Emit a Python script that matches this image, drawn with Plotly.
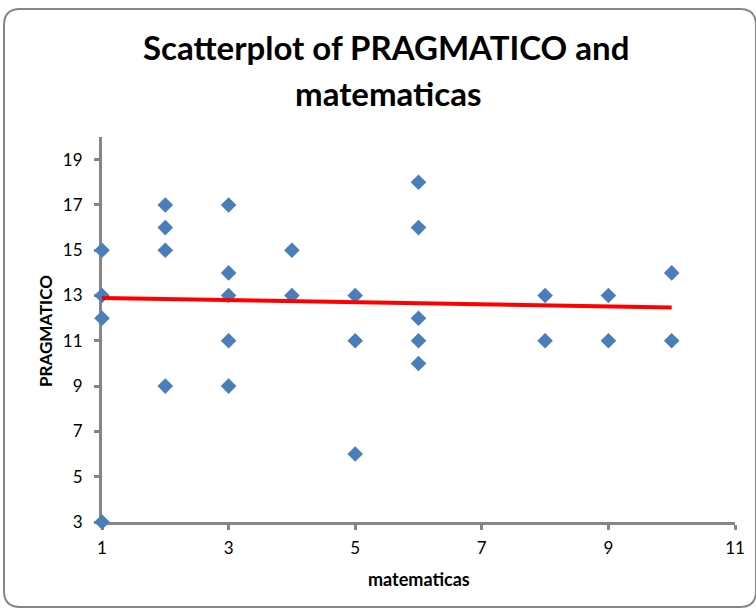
import plotly.graph_objects as go

# ---- data ----
matematicas = [1, 1, 1, 1, 2, 2, 2, 2, 3, 3, 3, 3, 3, 4, 4, 5, 5, 5,
               6, 6, 6, 6, 6, 8, 8, 9, 9, 10, 10]
pragmatico = [15, 13, 12, 3, 17, 16, 15, 9, 17, 14, 13, 11, 9, 15, 13, 13, 11, 6,
              18, 16, 12, 11, 10, 13, 11, 13, 11, 14, 11]
trend_x = [1, 10]
trend_y = [12.89, 12.47]
x_ticks = [1, 3, 5, 7, 9, 11]
y_ticks = [3, 5, 7, 9, 11, 13, 15, 17, 19]

W, H = 756, 612
L, R, T, B = 102, 735, 137, 522  # plot area in px


def px(x):
    return (x - L) / (R - L)


def py(y):
    return (B - y) / (B - T)


fig = go.Figure()
fig.add_trace(go.Scatter(
    x=matematicas, y=pragmatico, mode="markers",
    marker=dict(symbol="diamond", size=12, color="#4A7EBB",
                line=dict(width=0)),
    cliponaxis=False, showlegend=False))
fig.add_trace(go.Scatter(
    x=trend_x, y=trend_y, mode="lines",
    line=dict(color="#FF0000", width=4),
    cliponaxis=False, showlegend=False))

tickfont = dict(family="Lato, Liberation Sans, sans-serif", size=17, color="#000000")
axis_common = dict(showline=True, linecolor="#868686", linewidth=3,
                   ticks="outside", ticklen=5, tickwidth=3, tickcolor="#868686",
                   showgrid=False, zeroline=False, tickfont=tickfont,
                   layer="below traces", mirror=False)

fig.update_xaxes(range=[1, 11], tickvals=x_ticks, ticklabelstandoff=4, **axis_common)
fig.update_yaxes(range=[3, 20], tickvals=y_ticks, ticklabelstandoff=8, **axis_common)

# rounded chart border
x0, x1, y0, y1, r = 4, 756, 9, 607, 16
rx, ry = r / (R - L), r / (B - T)
X0, X1, Y0, Y1 = px(x0), px(x1), py(y0), py(y1)
path = (f"M {X0+rx},{Y0} L {X1-rx},{Y0} Q {X1},{Y0} {X1},{Y0-ry} "
        f"L {X1},{Y1+ry} Q {X1},{Y1} {X1-rx},{Y1} "
        f"L {X0+rx},{Y1} Q {X0},{Y1} {X0},{Y1+ry} "
        f"L {X0},{Y0-ry} Q {X0},{Y0} {X0+rx},{Y0} Z")

titlefont = dict(family="Lato, sans-serif", size=33, color="#000000")
xlabfont = dict(family="Lato, Liberation Sans, sans-serif", size=18, color="#000000")
ylabfont = dict(family="Lato, Liberation Sans, sans-serif", size=17, color="#000000")

fig.update_layout(
    width=W, height=H,
    margin=dict(l=L, r=W - R, t=T, b=H - B, autoexpand=False),
    paper_bgcolor="white", plot_bgcolor="white",
    shapes=[dict(type="path", path=path, xref="paper", yref="paper",
                 line=dict(color="#868686", width=2), layer="below")],
    annotations=[
        dict(text="<b>Scatterplot of PRAGMATICO and</b>", x=px(386), y=py(47),
             xref="paper", yref="paper", showarrow=False, font=titlefont,
             xanchor="center", yanchor="middle"),
        dict(text="<b>matematicas</b>", x=px(388), y=py(93),
             xref="paper", yref="paper", showarrow=False, font=titlefont,
             xanchor="center", yanchor="middle"),
        dict(text="<b>matematicas</b>", x=px(419), y=py(579),
             xref="paper", yref="paper", showarrow=False, font=xlabfont,
             xanchor="center", yanchor="middle"),
        dict(text="<b>PRAGMATICO</b>", x=px(45), y=py(331), textangle=-90,
             xref="paper", yref="paper", showarrow=False, font=ylabfont,
             xanchor="center", yanchor="middle"),
    ],
)

fig.write_html("out.html")
